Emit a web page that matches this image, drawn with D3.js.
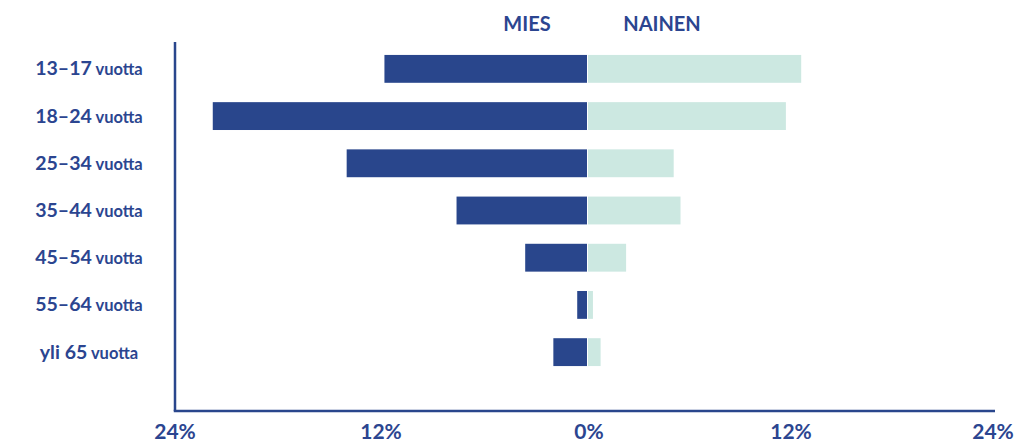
<!DOCTYPE html>
<html><head><meta charset="utf-8">
<script src="https://cdn.jsdelivr.net/npm/d3@7"></script>
<style>body{margin:0;background:#fff}svg{display:block}text{font-family:Lato,"Open Sans",sans-serif;font-weight:700;fill:#2b4590}</style>
</head><body><svg id="c" width="1018" height="442"></svg>
<script>
const categories = ["13–17", "18–24", "25–34", "35–44", "45–54", "55–64", "yli 65"];
const male = [11.8, 21.8, 14.0, 7.6, 3.6, 0.57, 1.96];
const female = [12.6, 11.7, 5.1, 5.5, 2.3, 0.35, 0.8];
const tickValues = [-24, -12, 0, 12, 24];
const tickLabels = ["24%", "12%", "0%", "12%", "24%"];
const seriesNames = ["MIES", "NAINEN"];

const svg = d3.select("#c");
const navy = "#29468c", mint = "#cce8e1";
const x = d3.scaleLinear().domain([-24, 0, 24]).range([175, 587, 995]);
const y = d3.scaleBand().domain(categories).range([45.5, 375.5]).paddingInner(0.41).paddingOuter(0.2);

svg.selectAll("rect.m").data(categories).join("rect")
  .attr("x", (d,i) => x(-male[i])).attr("y", d => y(d))
  .attr("width", (d,i) => x(0) - x(-male[i])).attr("height", y.bandwidth())
  .attr("fill", navy);
svg.selectAll("rect.f").data(categories).join("rect")
  .attr("x", x(0) + 1).attr("y", d => y(d))
  .attr("width", (d,i) => x(female[i]) - x(0) - 1).attr("height", y.bandwidth())
  .attr("fill", mint);

const axisY = 411;
svg.append("line").attr("x1", x(-24)).attr("x2", x(-24)).attr("y1", 42).attr("y2", axisY)
  .attr("stroke", navy).attr("stroke-width", 2.5);
svg.append("line").attr("x1", x(-24) - 1.25).attr("x2", x(24)).attr("y1", axisY).attr("y2", axisY)
  .attr("stroke", navy).attr("stroke-width", 2.5);

svg.selectAll("text.t").data(tickValues).join("text")
  .attr("x", (d,i) => i === 4 ? x(d) - 2 : x(d) + (i===2?2:0)).attr("y", 439)
  .attr("text-anchor", "middle").attr("font-size", 21).text((d,i) => tickLabels[i]);

const lab = svg.selectAll("text.c").data(categories).join("text")
  .attr("x", 89).attr("y", d => y(d) + y.bandwidth()/2 + 6.5)
  .attr("text-anchor", "middle");
lab.append("tspan").attr("font-size", 19.5).text(d => d);
lab.append("tspan").attr("font-size", 16.5).text(" vuotta");

svg.append("text").attr("x", 527).attr("y", 31).attr("text-anchor", "middle").attr("font-size", 20).text(seriesNames[0]);
svg.append("text").attr("x", 662).attr("y", 31).attr("text-anchor", "middle").attr("font-size", 20).text(seriesNames[1]);
</script></body></html>
